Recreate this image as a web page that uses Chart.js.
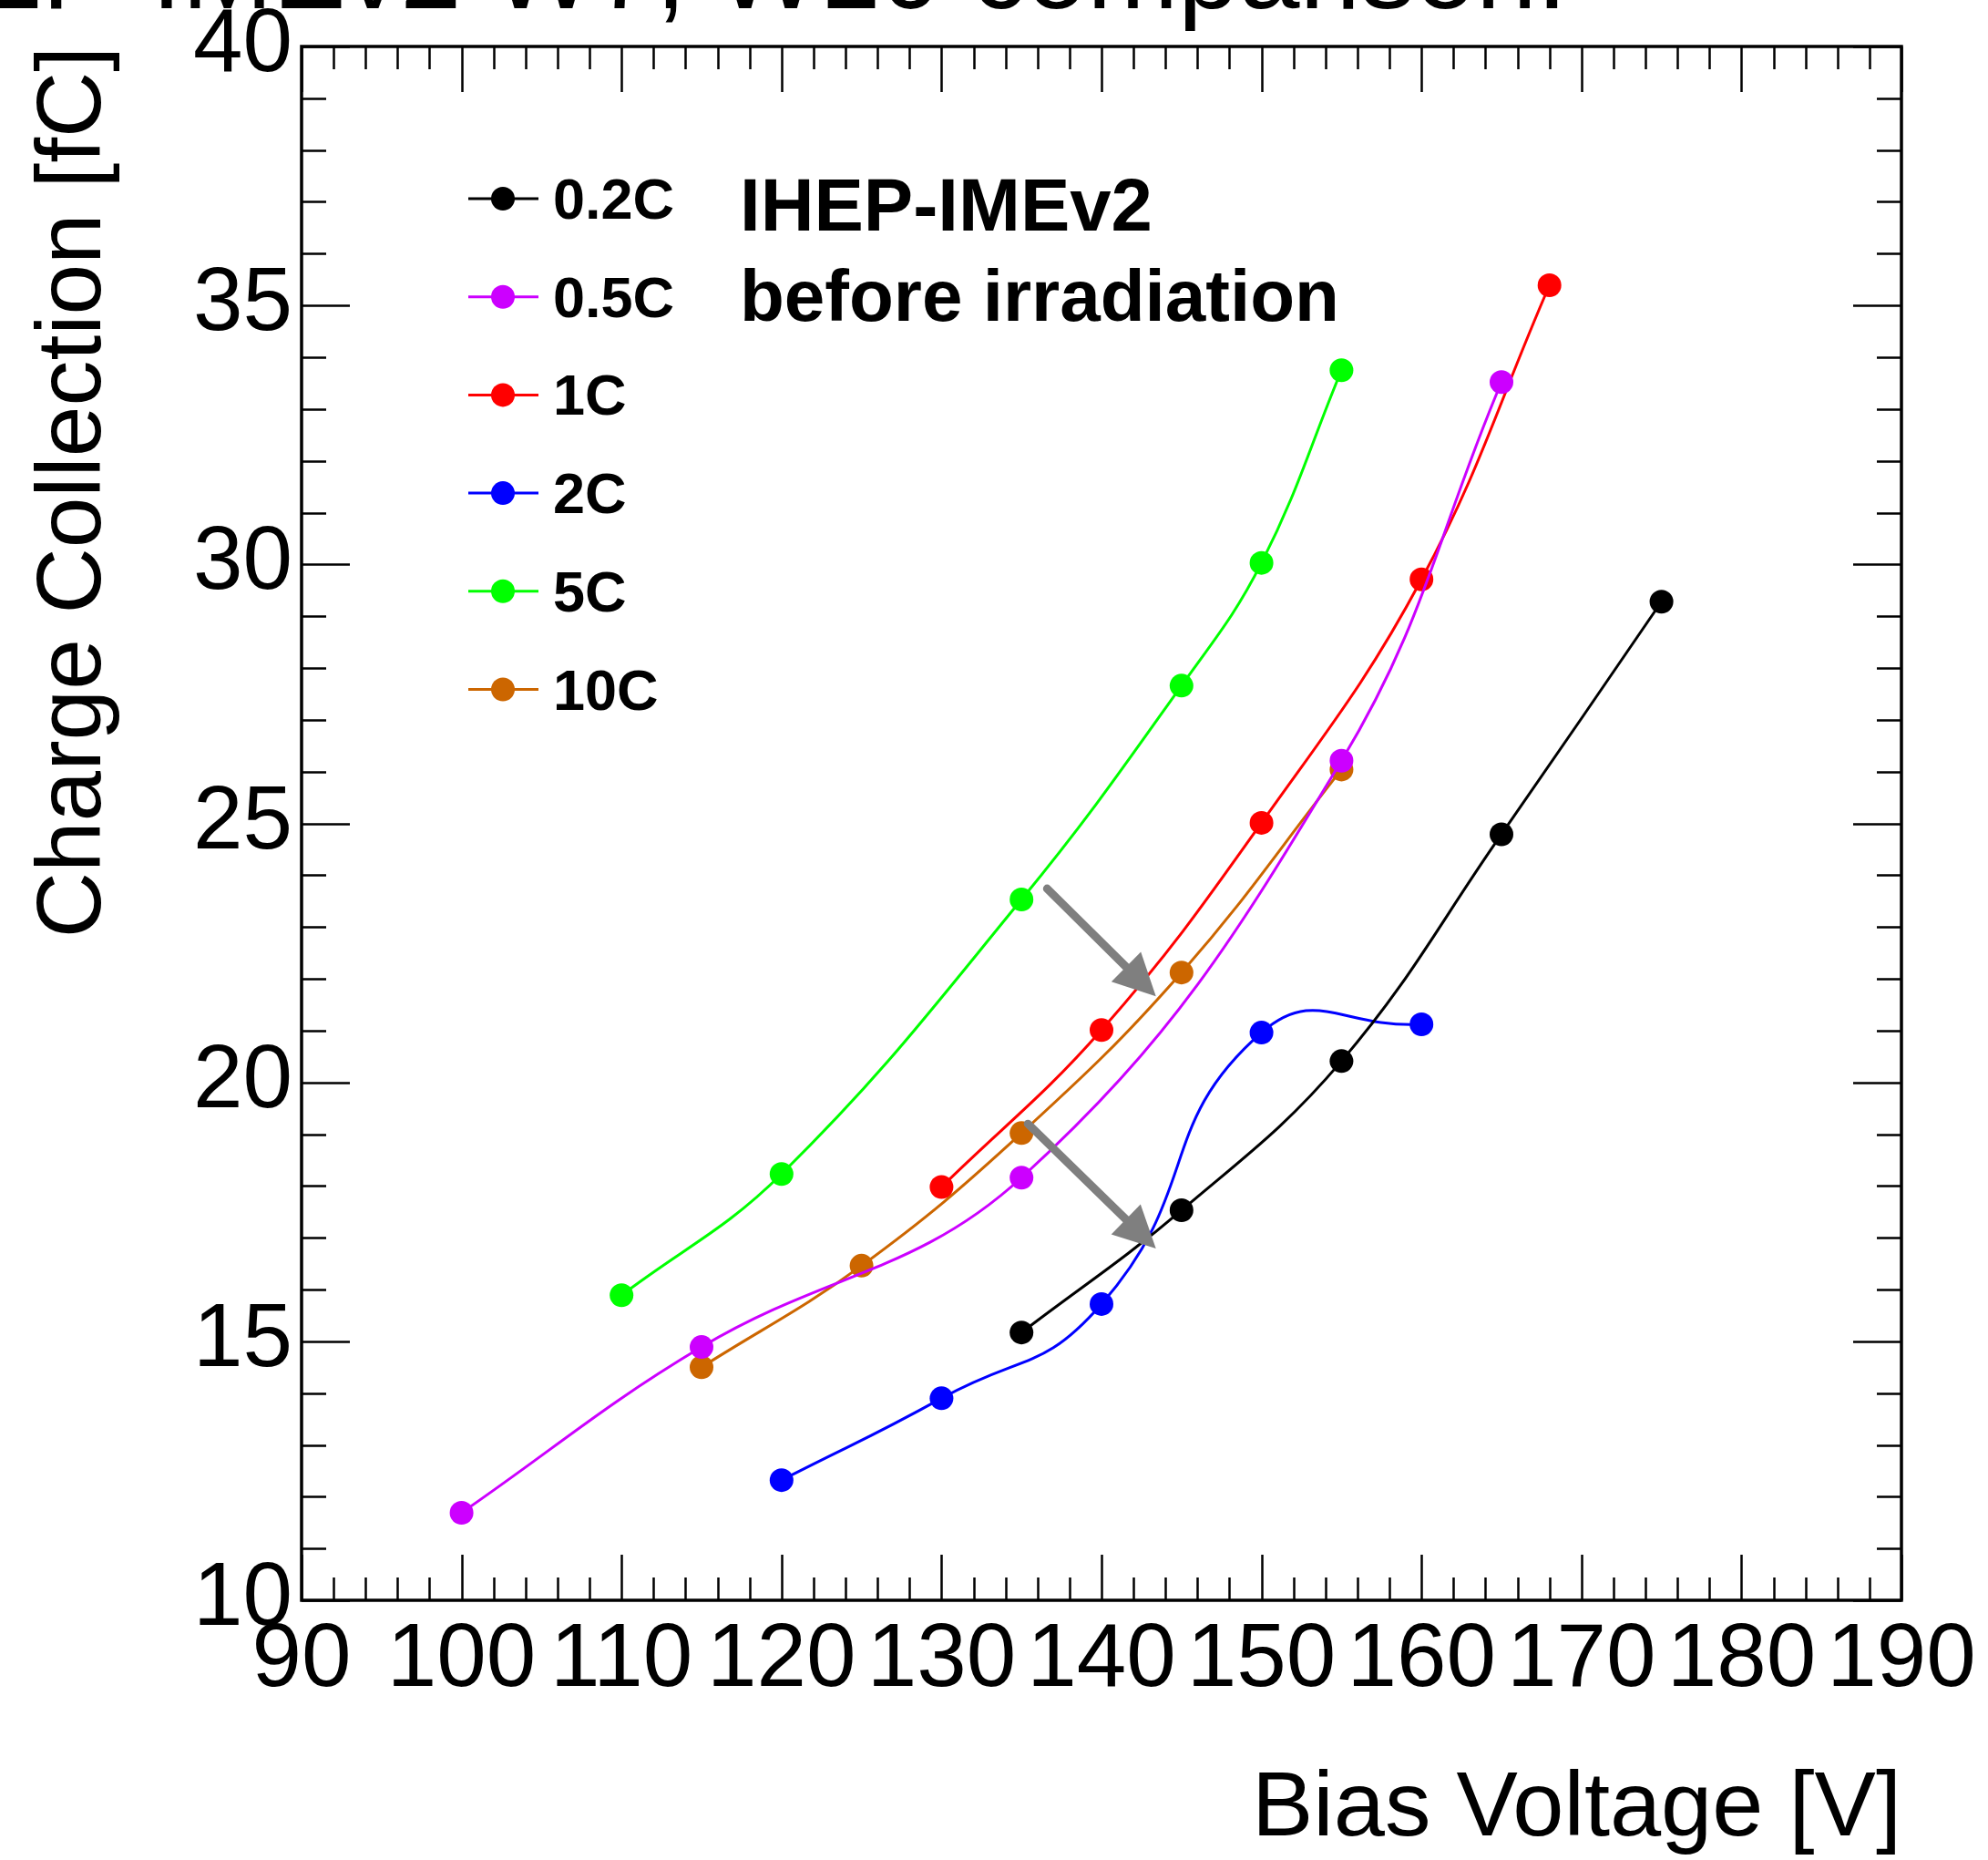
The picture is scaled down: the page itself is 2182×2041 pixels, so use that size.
<!DOCTYPE html>
<html>
<head>
<meta charset="utf-8">
<script src="https://cdn.jsdelivr.net/npm/chart.js@4.4.1/dist/chart.umd.min.js"></script>
<style>
  html, body { margin: 0; padding: 0; background: #fff; }
  #wrap { width: 2182px; height: 2041px; }
</style>
</head>
<body>
<div id="wrap"><canvas id="cc" width="2182" height="2041"></canvas></div>
<script>
// bias voltage [V] / collected charge [fC], one pair per fluence
var v02 = [135, 145, 155, 165, 175];
var q02 = [15.17, 17.53, 20.41, 24.79, 29.28];
var v05 = [100, 115, 135, 155, 165];
var q05 = [11.69, 14.89, 18.16, 26.21, 33.52];
var v1 = [130, 140, 150, 160, 168];
var q1 = [17.98, 21.01, 25.01, 29.71, 35.39];
var v2 = [120, 130, 140, 150, 160];
var q2 = [12.32, 13.90, 15.72, 20.96, 21.12];
var v5 = [110, 120, 135, 145, 150, 155];
var q5 = [15.89, 18.23, 23.53, 27.66, 30.03, 33.75];
var v10 = [115, 125, 135, 145, 155];
var q10 = [14.50, 16.46, 19.02, 22.12, 26.04];

var seriesNames = ['0.2C', '0.5C', '1C', '2C', '5C', '10C'];
var seriesColors = ['#000000', '#cc00ff', '#ff0000', '#0000ff', '#00ff00', '#cc6600'];
var seriesTension = [0.4, 0.4, 0.4, 0.5, 0.4, 0.4];

// the two grey arrows (tail -> head), in data units
var arrowFromV = [136.6, 135.4];
var arrowFromQ = [23.74, 19.20];
var arrowToV = [143.4, 143.4];
var arrowToQ = [21.66, 16.79];

var xMajor = [90, 100, 110, 120, 130, 140, 150, 160, 170, 180, 190];
var yMajor = [10, 15, 20, 25, 30, 35, 40];
var xMinorStep = 2, yMinorStep = 1;

var titleText = 'IHEP-IMEv2 W7, W10 comparison.';
var noteLines = ['IHEP-IMEv2', 'before irradiation'];

function pts(xs, ys) { return xs.map(function (x, i) { return { x: x, y: ys[i] }; }); }

var allX = [v02, v05, v1, v2, v5, v10];
var allY = [q02, q05, q1, q2, q5, q10];

var datasets = seriesNames.map(function (name, i) {
  return {
    label: name,
    data: pts(allX[i], allY[i]),
    borderColor: seriesColors[i],
    backgroundColor: seriesColors[i],
    borderWidth: 3,
    pointRadius: 13,
    pointHoverRadius: 13,
    pointBorderWidth: 0,
    showLine: true,
    tension: seriesTension[i]
  };
});

Chart.defaults.font.family = "'Liberation Sans', Arial, Helvetica, sans-serif";
Chart.defaults.color = '#000';

// ROOT-style frame with inward ticks on all four sides
var rootFrame = {
  id: 'rootFrame',
  afterDraw: function (chart) {
    var ctx = chart.ctx, a = chart.chartArea;
    var xs = chart.scales.x, ys = chart.scales.y;
    ctx.save();
    ctx.strokeStyle = '#000';
    ctx.lineWidth = 2.5;
    ctx.beginPath();
    for (var v = xs.min; v <= xs.max + 1e-9; v += xMinorStep) {
      var px = Math.round(xs.getPixelForValue(v)) + 0.5;
      var len = xMajor.indexOf(Math.round(v)) >= 0 ? 50 : 25;
      ctx.moveTo(px, a.bottom); ctx.lineTo(px, a.bottom - len);
      ctx.moveTo(px, a.top); ctx.lineTo(px, a.top + len);
    }
    for (var w = ys.min; w <= ys.max + 1e-9; w += yMinorStep) {
      var py = Math.round(ys.getPixelForValue(w)) + 0.5;
      var l2 = yMajor.indexOf(Math.round(w)) >= 0 ? 53 : 27;
      ctx.moveTo(a.left, py); ctx.lineTo(a.left + l2, py);
      ctx.moveTo(a.right, py); ctx.lineTo(a.right - l2, py);
    }
    ctx.stroke();
    ctx.lineWidth = 3.5;
    ctx.strokeRect(a.left, a.top, a.right - a.left, a.bottom - a.top);

    // legend
    var rowY = 218, dy = 107.7;
    chart.data.datasets.forEach(function (ds, i) {
      var y = rowY + i * dy;
      ctx.strokeStyle = ds.borderColor;
      ctx.lineWidth = 3;
      ctx.beginPath(); ctx.moveTo(514, y); ctx.lineTo(591, y); ctx.stroke();
      ctx.fillStyle = ds.backgroundColor;
      ctx.beginPath(); ctx.arc(552, y, 13, 0, Math.PI * 2); ctx.fill();
      ctx.fillStyle = '#000';
      ctx.font = "bold 63px 'Liberation Sans', Arial, sans-serif";
      ctx.textAlign = 'left'; ctx.textBaseline = 'alphabetic';
      ctx.fillText(ds.label, 607, y + 22);
    });

    // annotation text
    ctx.font = "bold 81.5px 'Liberation Sans', Arial, sans-serif";
    ctx.fillText(noteLines[0], 812, 253);
    ctx.font = "bold 80px 'Liberation Sans', Arial, sans-serif";
    ctx.fillText(noteLines[1], 812, 352);

    // page title, cut by the top edge
    ctx.font = "120px 'Liberation Sans', Arial, sans-serif";
    ctx.textAlign = 'right';
    ctx.fillText(titleText, 1720, 9);
    ctx.restore();
  }
};

var arrows = {
  id: 'arrows',
  afterDatasetsDraw: function (chart) {
    var ctx = chart.ctx, xs = chart.scales.x, ys = chart.scales.y;
    ctx.save();
    ctx.strokeStyle = '#7f7f7f';
    ctx.fillStyle = '#7f7f7f';
    for (var i = 0; i < arrowFromV.length; i++) {
      var x0 = xs.getPixelForValue(arrowFromV[i]), y0 = ys.getPixelForValue(arrowFromQ[i]);
      var x1 = xs.getPixelForValue(arrowToV[i]), y1 = ys.getPixelForValue(arrowToQ[i]);
      var ang = Math.atan2(y1 - y0, x1 - x0);
      var hl = 46, hw = 23;
      var bx = x1 - hl * Math.cos(ang), by = y1 - hl * Math.sin(ang);
      ctx.lineWidth = 9; ctx.lineCap = 'round';
      ctx.beginPath(); ctx.moveTo(x0, y0); ctx.lineTo(bx, by); ctx.stroke();
      ctx.beginPath();
      ctx.moveTo(x1, y1);
      ctx.lineTo(bx + hw * Math.sin(ang), by - hw * Math.cos(ang));
      ctx.lineTo(bx - hw * Math.sin(ang), by + hw * Math.cos(ang));
      ctx.closePath(); ctx.fill();
    }
    ctx.restore();
  }
};

new Chart(document.getElementById('cc'), {
  type: 'scatter',
  data: { datasets: datasets },
  options: {
    responsive: false,
    devicePixelRatio: 1,
    animation: false,
    layout: { padding: { top: 51, right: 95, bottom: 0, left: 0 }, autoPadding: false },
    plugins: { legend: { display: false }, tooltip: { enabled: false } },
    scales: {
      x: {
        type: 'linear', min: 90, max: 190,
        afterBuildTicks: function (s) { s.ticks = xMajor.map(function (v) { return { value: v }; }); },
        afterFit: function (s) { s.height = 285; s.paddingLeft = 0; s.paddingRight = 0; },
        ticks: { font: { size: 98 }, color: '#000', padding: 0, maxRotation: 0, autoSkip: false },
        grid: { display: false },
        border: { display: false },
        title: { display: true, text: 'Bias Voltage [V]', align: 'end', color: '#000',
                 font: { size: 101, lineHeight: 1 }, padding: { top: 0, bottom: 4 } }
      },
      y: {
        type: 'linear', min: 10, max: 40,
        afterBuildTicks: function (s) { s.ticks = yMajor.map(function (v) { return { value: v }; }); },
        afterFit: function (s) { s.width = 331; s.paddingTop = 0; s.paddingBottom = 0; },
        ticks: { font: { size: 98 }, color: '#000', padding: 2 },
        grid: { display: false },
        border: { display: false },
        title: { display: true, text: 'Charge Collection [fC]', align: 'end', color: '#000',
                 font: { size: 100, lineHeight: 1.2 }, padding: { top: 22, bottom: 0 } }
      }
    }
  },
  plugins: [rootFrame, arrows]
});
</script>
</body>
</html>
